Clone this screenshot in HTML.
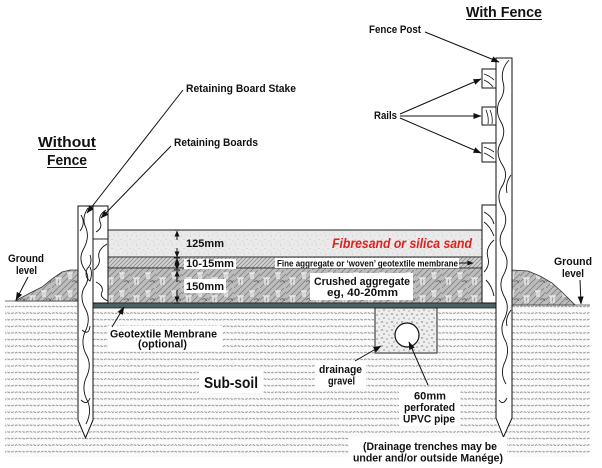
<!DOCTYPE html>
<html><head><meta charset="utf-8"><style>
html,body{margin:0;padding:0;background:#fff;}
svg{display:block;}
text{font-family:"Liberation Sans",sans-serif;font-weight:bold;fill:#111;}
</style></head><body>
<svg width="602" height="468" viewBox="0 0 602 468" xmlns="http://www.w3.org/2000/svg">
<defs>
 <pattern id="soil" width="26" height="6.6" patternUnits="userSpaceOnUse">
  <rect width="26" height="6.6" fill="#fafafa"/>
  <path d="M0 3.3 l1.5 -0.8 l1.5 0.8 l1.5 -0.8 l1.5 0.8 l1.5 -0.8 l1.5 0.8 l1.5 -0.8 l1.5 0.8 l1.5 -0.8 l1.5 0.8 l1.5 -0.8 l1.5 0.8 l1.5 -0.8 l1.5 0.8 l1.5 -0.8 l1.5 0.8 l1.5 -0.8 l1 0.8" stroke="#858585" stroke-width="0.8" fill="none" stroke-dasharray="3 1.2"/>
 </pattern>
 <pattern id="sand" width="9" height="9" patternUnits="userSpaceOnUse">
  <rect width="9" height="9" fill="#eaeaea"/>
  <circle cx="1.5" cy="2" r="0.5" fill="#b5b5b5"/>
  <circle cx="6" cy="1" r="0.45" fill="#c0c0c0"/>
  <circle cx="4" cy="5.5" r="0.5" fill="#b8b8b8"/>
  <circle cx="8" cy="7" r="0.45" fill="#c4c4c4"/>
  <circle cx="1" cy="8" r="0.4" fill="#bdbdbd"/>
 </pattern>
 <pattern id="fine" width="4" height="4" patternUnits="userSpaceOnUse">
  <rect width="4" height="4" fill="#d2d2d2"/>
  <path d="M0 4 L4 0 M-1 1 L1 -1 M3 5 L5 3" stroke="#8a8a8a" stroke-width="0.8"/>
 </pattern>
 <pattern id="crush" width="26" height="18" patternUnits="userSpaceOnUse">
  <rect width="26" height="18" fill="#bdbdbd"/>
  <path d="M0 6 L6 0 M0 12 L12 0 M0 18 L18 0 M6 18 L24 0 M12 18 L26 4 M18 18 L26 10" stroke="#858585" stroke-width="0.9"/>
  <path d="M3 8 h7 M5 8 v7 M8 8 v7 M15 3 h6 M17 3 v6 M19 3 v6" stroke="#f0f0f0" stroke-width="1.3" fill="none"/>
  <path d="M20 12 q3 -3 5 1" stroke="#555" stroke-width="0.7" fill="none"/>
 </pattern>
 <pattern id="gravel" width="10" height="8" patternUnits="userSpaceOnUse">
  <rect width="10" height="8" fill="#eeeeee"/>
  <ellipse cx="2" cy="2" rx="1.3" ry="0.7" fill="#9a9a9a"/>
  <ellipse cx="7" cy="3" rx="1.1" ry="0.7" fill="#a5a5a5"/>
  <ellipse cx="4" cy="6" rx="1.2" ry="0.6" fill="#9e9e9e"/>
  <ellipse cx="9" cy="7" rx="0.9" ry="0.6" fill="#aaaaaa"/>
 </pattern>
 <marker id="ah" markerWidth="8" markerHeight="6" refX="7.5" refY="3" orient="auto" markerUnits="userSpaceOnUse">
  <path d="M0,0 L8,3 L0,6 z" fill="#111"/>
 </marker>
 <marker id="ds" markerWidth="6" markerHeight="5" refX="5.5" refY="2.5" orient="auto" markerUnits="userSpaceOnUse">
  <path d="M0,0 L6,2.5 L0,5 z" fill="#111"/>
 </marker>
</defs>

<!-- sub-soil -->
<rect x="5" y="301" width="585" height="156" fill="url(#soil)"/>
<line x1="5" y1="301" x2="93" y2="301" stroke="#444" stroke-width="0.8"/>
<line x1="512" y1="305" x2="590" y2="305" stroke="#444" stroke-width="0.8"/>

<!-- mounds -->
<path d="M15 301 L30 293 L42 287 L52 279 L62 272 L70 270 L78 270 L78 301 Z" fill="url(#crush)" stroke="#333" stroke-width="0.8"/>
<path d="M512 270 L528 271 L540 276 L552 283 L562 292 L575 305 L512 305 Z" fill="url(#crush)" stroke="#333" stroke-width="0.8"/>

<!-- layers -->
<rect x="108" y="230" width="374" height="27" fill="url(#sand)" stroke="#222" stroke-width="1"/>
<rect x="108" y="257" width="374" height="11" fill="url(#fine)" stroke="#222" stroke-width="0.8"/>
<rect x="93" y="268" width="403" height="35" fill="url(#crush)" stroke="#222" stroke-width="0.8"/>
<rect x="93" y="303" width="403" height="5" fill="#4b6262" stroke="#222" stroke-width="0.8"/>

<!-- drainage trench -->
<rect x="375" y="308" width="62" height="45" fill="url(#gravel)" stroke="#222" stroke-width="1"/>
<circle cx="407" cy="335" r="12" fill="#fff" stroke="#111" stroke-width="1.2"/>

<!-- left retaining boards -->
<rect x="93" y="206" width="15" height="97" fill="#fff" stroke="#111" stroke-width="1"/>
<line x1="93" y1="239" x2="108" y2="239" stroke="#111" stroke-width="0.9"/>
<path d="M106 210 q-8 5 -6 12 q3 6 -4 10 M107 244 q-10 6 -8 14 q2 6 -5 12 M96 282 q8 4 6 10 q-3 5 6 9" stroke="#111" stroke-width="0.9" fill="none"/>
<!-- left stake -->
<path d="M78 206 H93 V420 L85.5 438 L78 420 Z" fill="#fff" stroke="#111" stroke-width="1"/>
<path d="M88 208 q-7 10 -2 20 q4 10 -3 22 q-5 10 2 20 q6 8 -1 18 q-5 10 2 22 q5 10 -1 22 q-5 12 2 24 q5 10 -1 22 q-5 12 2 24 q4 10 -2 22" stroke="#111" stroke-width="0.9" fill="none"/>
<path d="M81 215 q5 8 -1 16 M90 255 q3 8 -3 14 q-3 8 3 12 q3 -8 0 -14 M82 330 q7 6 8 -4 M81 400 q6 6 9 -2" stroke="#111" stroke-width="0.9" fill="none"/>

<!-- right retaining boards -->
<rect x="482" y="205" width="14" height="98" fill="#fff" stroke="#111" stroke-width="1"/>
<path d="M484 212 q8 4 10 12 M484 222 q6 4 10 14 M494 240 q-9 8 -6 18 q2 8 -4 14 M486 280 q6 6 8 16" stroke="#111" stroke-width="0.9" fill="none"/>
<!-- right post -->
<path d="M496 58 H512 V418 L503.5 437 L496 418 Z" fill="#fff" stroke="#111" stroke-width="1"/>
<path d="M509 60 q-9 10 -6 22 q3 10 -4 20 q-4 10 2 20 q6 10 -1 22 q-5 10 3 22 q6 10 -2 22 q-5 10 2 22 q6 10 -1 22 q-5 10 3 22 q5 10 -2 22 q-5 10 2 22 q5 10 -1 22 q-5 10 2 22 q4 10 -2 22 q-4 10 2 20" stroke="#111" stroke-width="0.9" fill="none"/>
<path d="M511 175 q-6 8 -4 18 M511 310 q-6 8 -4 16 M499 400 q4 6 8 -2" stroke="#111" stroke-width="0.9" fill="none"/>
<!-- rails -->
<rect x="482" y="69" width="14" height="19" fill="#fff" stroke="#111" stroke-width="1"/>
<rect x="482" y="107" width="14" height="18" fill="#fff" stroke="#111" stroke-width="1"/>
<rect x="482" y="143" width="14" height="19" fill="#fff" stroke="#111" stroke-width="1"/>
<path d="M484 74 q6 2 10 6 M484 80 q5 2 9 7 M486 110 q3 7 2 14 M490 110 q3 7 2 14 M484 147 q6 2 10 5 M484 153 q5 2 10 6" stroke="#111" stroke-width="0.8" fill="none"/>

<!-- dimension arrows -->
<g stroke="#111" stroke-width="1">
 <line x1="174" y1="230" x2="180" y2="230"/>
 <line x1="177" y1="240" x2="177" y2="231" marker-end="url(#ds)"/>
 <line x1="177" y1="248" x2="177" y2="257" marker-end="url(#ds)"/>
 <line x1="174" y1="258" x2="180" y2="258"/>
 <line x1="177" y1="262" x2="177" y2="258.5" marker-end="url(#ds)"/>
 <line x1="177" y1="266" x2="177" y2="269.5" marker-end="url(#ds)"/>
 <line x1="174" y1="270" x2="180" y2="270"/>
 <line x1="177" y1="282" x2="177" y2="271" marker-end="url(#ds)"/>
 <line x1="177" y1="290" x2="177" y2="302" marker-end="url(#ds)"/>
 <line x1="174" y1="303" x2="180" y2="303"/>
</g>

<!-- white label backgrounds -->
<rect x="184" y="259" width="52" height="10" fill="#fff"/>
<rect x="184" y="279" width="42" height="14" fill="#fff"/>
<rect x="275" y="258" width="184" height="10" fill="#fff"/>
<rect x="310" y="273" width="103" height="27" fill="#fff"/>
<rect x="108" y="326" width="114" height="25" fill="#fff"/>
<rect x="199" y="371" width="64" height="22" fill="#fff"/>
<rect x="315" y="361" width="51" height="28" fill="#fff"/>
<rect x="399" y="388" width="61" height="38" fill="#fff"/>
<rect x="349" y="437" width="158" height="30" fill="#fff"/>

<!-- leaders -->
<g stroke="#111" stroke-width="1" fill="none">
 <line x1="183" y1="90" x2="87" y2="213" marker-end="url(#ah)"/>
 <line x1="171" y1="146" x2="101" y2="218" marker-end="url(#ah)"/>
 <line x1="425" y1="32" x2="499" y2="62" marker-end="url(#ah)"/>
 <line x1="400" y1="114" x2="481" y2="79" marker-end="url(#ah)"/>
 <line x1="400" y1="116" x2="481" y2="116" marker-end="url(#ah)"/>
 <line x1="400" y1="118" x2="481" y2="153" marker-end="url(#ah)"/>
 <line x1="28" y1="277" x2="16" y2="300" marker-end="url(#ah)"/>
 <line x1="580" y1="280" x2="581" y2="304" marker-end="url(#ah)"/>
 <line x1="112" y1="327" x2="124" y2="307" marker-end="url(#ah)"/>
 <line x1="355" y1="361" x2="381" y2="346" marker-end="url(#ah)"/>
 <line x1="428" y1="385" x2="409" y2="342" marker-end="url(#ah)"/>
 <line x1="459" y1="263" x2="473" y2="263" marker-end="url(#ds)"/>
</g>

<!-- headings -->
<text x="466" y="17" font-size="14.5" textLength="76" lengthAdjust="spacingAndGlyphs">With Fence</text>
<line x1="466" y1="19.5" x2="542" y2="19.5" stroke="#111" stroke-width="1"/>
<text x="38" y="147" font-size="14.5" textLength="58" lengthAdjust="spacingAndGlyphs">Without</text>
<line x1="38" y1="149.5" x2="96" y2="149.5" stroke="#111" stroke-width="1"/>
<text x="47" y="165" font-size="14.5" textLength="40" lengthAdjust="spacingAndGlyphs">Fence</text>
<line x1="47" y1="167.5" x2="87" y2="167.5" stroke="#111" stroke-width="1"/>

<!-- labels -->
<text x="186" y="92" font-size="11" textLength="110" lengthAdjust="spacingAndGlyphs">Retaining Board Stake</text>
<text x="174" y="146" font-size="11" textLength="84" lengthAdjust="spacingAndGlyphs">Retaining Boards</text>
<text x="369" y="33" font-size="11" textLength="52" lengthAdjust="spacingAndGlyphs">Fence Post</text>
<text x="374" y="119" font-size="11" textLength="23" lengthAdjust="spacingAndGlyphs">Rails</text>
<text x="186" y="247" font-size="11" textLength="38" lengthAdjust="spacingAndGlyphs">125mm</text>
<text x="186" y="267" font-size="11" textLength="48" lengthAdjust="spacingAndGlyphs">10-15mm</text>
<text x="186" y="290" font-size="11" textLength="38" lengthAdjust="spacingAndGlyphs">150mm</text>
<text x="332" y="248" font-size="14" font-style="italic" style="fill:#e3201b" textLength="140" lengthAdjust="spacingAndGlyphs">Fibresand or silica sand</text>
<text x="277" y="266.5" font-size="9.5" textLength="181" lengthAdjust="spacingAndGlyphs">Fine aggregate or ‘woven’ geotextile membrane</text>
<text x="314" y="285" font-size="11" textLength="96" lengthAdjust="spacingAndGlyphs">Crushed aggregate</text>
<text x="327" y="296" font-size="11" textLength="71" lengthAdjust="spacingAndGlyphs">eg, 40-20mm</text>
<text x="8" y="262" font-size="11" textLength="36" lengthAdjust="spacingAndGlyphs">Ground</text>
<text x="16" y="274" font-size="11" textLength="21" lengthAdjust="spacingAndGlyphs">level</text>
<text x="554" y="265" font-size="11" textLength="38" lengthAdjust="spacingAndGlyphs">Ground</text>
<text x="562" y="277" font-size="11" textLength="22" lengthAdjust="spacingAndGlyphs">level</text>
<text x="110" y="337.5" font-size="11" textLength="107" lengthAdjust="spacingAndGlyphs">Geotextile Membrane</text>
<text x="138" y="347.5" font-size="11" textLength="49" lengthAdjust="spacingAndGlyphs">(optional)</text>
<text x="204" y="388" font-size="16" textLength="54" lengthAdjust="spacingAndGlyphs">Sub-soil</text>
<text x="319" y="373" font-size="11" textLength="43" lengthAdjust="spacingAndGlyphs">drainage</text>
<text x="328" y="384.5" font-size="11" textLength="27" lengthAdjust="spacingAndGlyphs">gravel</text>
<text x="414" y="399.5" font-size="11" textLength="32" lengthAdjust="spacingAndGlyphs">60mm</text>
<text x="404" y="411" font-size="11" textLength="51" lengthAdjust="spacingAndGlyphs">perforated</text>
<text x="403" y="422.5" font-size="11" textLength="52" lengthAdjust="spacingAndGlyphs">UPVC pipe</text>
<text x="363" y="450" font-size="11" textLength="134" lengthAdjust="spacingAndGlyphs">(Drainage trenches may be</text>
<text x="353" y="461.5" font-size="11" textLength="150" lengthAdjust="spacingAndGlyphs">under and/or outside Manége)</text>
</svg>
</body></html>
